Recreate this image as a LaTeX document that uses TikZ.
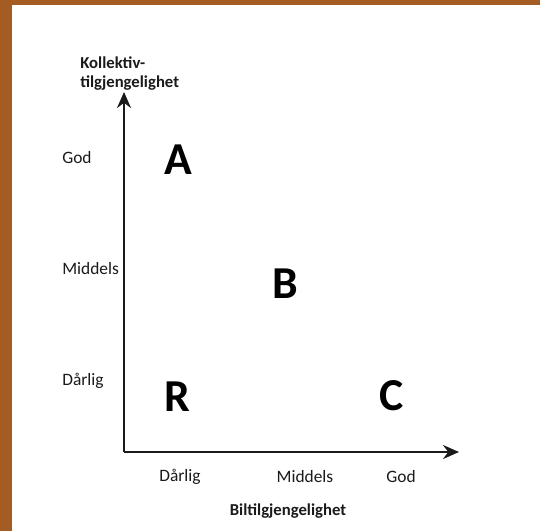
\documentclass[tikz,border=0pt]{standalone}
\usepackage{fontspec}
\setmainfont{Carlito}
\usetikzlibrary{arrows.meta,positioning}
\definecolor{rust}{HTML}{A55C22}
\definecolor{ink}{HTML}{1A1A1A}

\begin{document}
\begin{tikzpicture}[x=0.02cm,y=-0.02cm,
  axis/.style={-{Stealth[length=3.2mm,width=2.8mm]},line width=1.2pt,color=ink},
  tick/.style={font=\fontsize{9.9}{11}\selectfont,color=ink,inner sep=0pt},
  ttl/.style={tick,font=\fontsize{9.5}{11}\selectfont\bfseries},
  zone/.style={font=\fontsize{26}{26}\selectfont\bfseries,color=black,inner sep=0pt}]
% frame
\useasboundingbox (0,0) rectangle (540,531);
\fill[rust] (0,0) rectangle (540,531);
\fill[white] (12,5) rectangle (540,531);
% axes
\coordinate (O) at (124,452);
\coordinate (ytop) at (124,92);
\coordinate (xend) at (459,452);
\draw[axis] (O) -- (ytop);
\draw[axis] (O) -- (xend);
\node[ttl,align=left,anchor=south west] (ylab) at (80,91) {Kollektiv-\\tilgjengelighet};
% y levels
\node[tick,anchor=west] (ygod) at (62,158) {God};
\node[tick,anchor=west] (ymid) at (62,269) {Middels};
\node[tick,anchor=west] (ydar) at (62,381) {Dårlig};
% x levels
\node[tick] (xdar) at (180,477) {Dårlig};
\node[tick] (xmid) at (305,477) {Middels};
\node[tick] (xgod) at (401,477) {God};
\node[ttl] (xlab) at (288,511) {Biltilgjengelighet};
% zones
\node[zone] (A) at (178,160) {A};
\node[zone] (B) at (285,284) {B};
\node[zone] (R) at (177,397) {R};
\node[zone] (C) at (392,396) {C};
\end{tikzpicture}
\end{document}
